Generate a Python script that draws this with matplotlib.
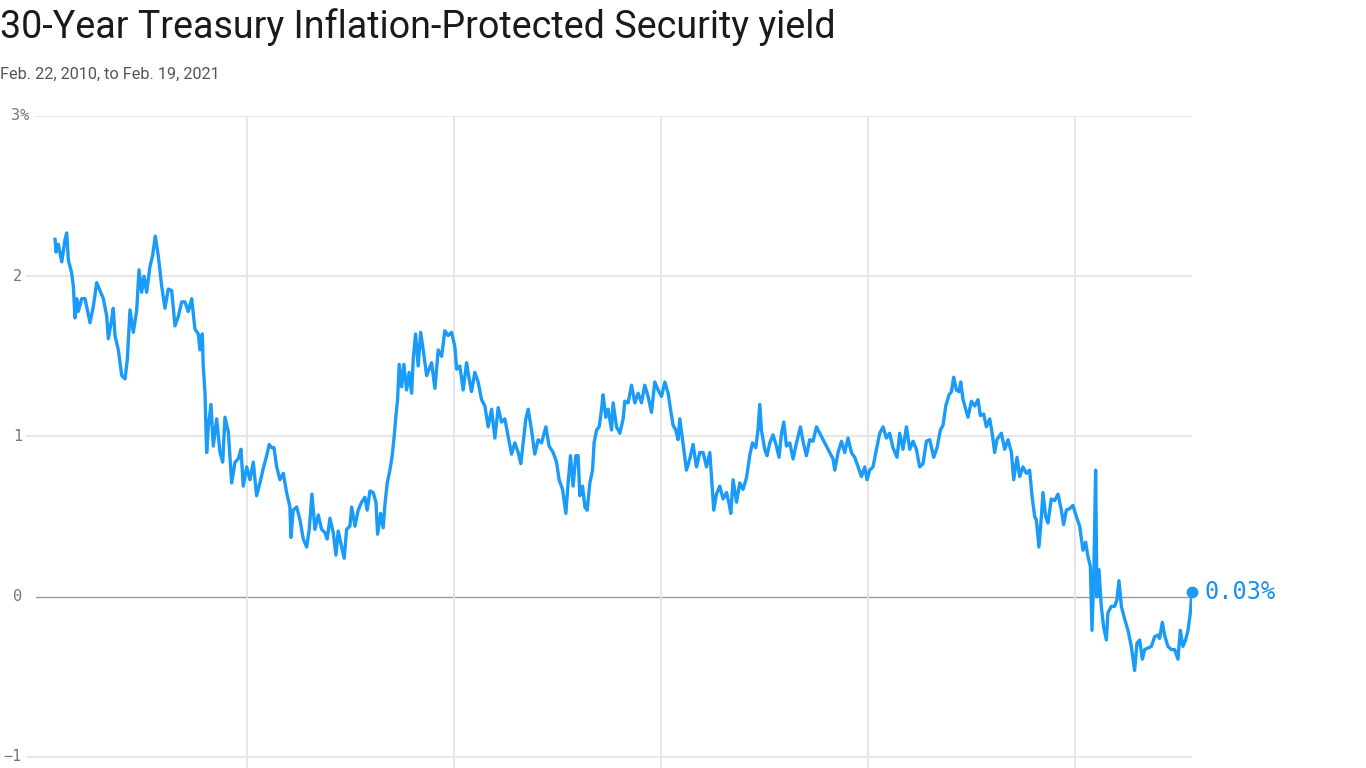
import matplotlib
matplotlib.use("Agg")
import matplotlib.pyplot as plt

# 30-year TIPS yield (x in decimal years, y in %)
years = [
    2010.142, 2010.152, 2010.174, 2010.207, 2010.239, 2010.255, 2010.271, 2010.303, 2010.319, 2010.335,
    2010.352, 2010.367, 2010.400, 2010.432, 2010.480, 2010.512, 2010.545, 2010.577, 2010.609, 2010.642,
    2010.657, 2010.690, 2010.705, 2010.722, 2010.754, 2010.787, 2010.819, 2010.841, 2010.867, 2010.899,
    2010.932, 2010.954, 2010.980, 2011.002, 2011.028, 2011.060, 2011.086, 2011.111, 2011.140, 2011.173,
    2011.205, 2011.237, 2011.270, 2011.302, 2011.334, 2011.367, 2011.398, 2011.430, 2011.463, 2011.495,
    2011.527, 2011.543, 2011.566, 2011.575, 2011.592, 2011.608, 2011.624, 2011.650, 2011.672, 2011.705,
    2011.737, 2011.763, 2011.785, 2011.817, 2011.850, 2011.882, 2011.914, 2011.940, 2011.962, 2011.995,
    2012.027, 2012.059, 2012.091, 2012.123, 2012.155, 2012.188, 2012.213, 2012.236, 2012.259, 2012.285,
    2012.317, 2012.349, 2012.381, 2012.413, 2012.423, 2012.445, 2012.478, 2012.510, 2012.542, 2012.575,
    2012.600, 2012.626, 2012.655, 2012.687, 2012.720, 2012.752, 2012.774, 2012.800, 2012.832, 2012.858,
    2012.880, 2012.913, 2012.938, 2012.961, 2012.993, 2013.010, 2013.042, 2013.073, 2013.106, 2013.138,
    2013.160, 2013.187, 2013.218, 2013.245, 2013.261, 2013.290, 2013.315, 2013.331, 2013.354, 2013.380,
    2013.402, 2013.421, 2013.438, 2013.454, 2013.470, 2013.493, 2013.515, 2013.541, 2013.566, 2013.590,
    2013.605, 2013.628, 2013.653, 2013.677, 2013.702, 2013.735, 2013.783, 2013.815, 2013.847, 2013.880,
    2013.911, 2013.943, 2013.976, 2014.008, 2014.025, 2014.056, 2014.088, 2014.121, 2014.146, 2014.169,
    2014.201, 2014.233, 2014.266, 2014.298, 2014.330, 2014.363, 2014.395, 2014.427, 2014.459, 2014.491,
    2014.523, 2014.556, 2014.588, 2014.620, 2014.646, 2014.668, 2014.694, 2014.717, 2014.749, 2014.781,
    2014.813, 2014.846, 2014.888, 2014.919, 2014.958, 2014.991, 2015.016, 2015.049, 2015.081, 2015.103,
    2015.126, 2015.151, 2015.178, 2015.200, 2015.216, 2015.242, 2015.265, 2015.287, 2015.313, 2015.339,
    2015.354, 2015.378, 2015.403, 2015.426, 2015.441, 2015.467, 2015.490, 2015.523, 2015.538, 2015.571,
    2015.603, 2015.635, 2015.651, 2015.683, 2015.716, 2015.748, 2015.780, 2015.812, 2015.844, 2015.876,
    2015.909, 2015.941, 2015.973, 2016.006, 2016.038, 2016.070, 2016.093, 2016.118, 2016.144, 2016.166,
    2016.183, 2016.215, 2016.247, 2016.279, 2016.311, 2016.344, 2016.376, 2016.408, 2016.441, 2016.473,
    2016.489, 2016.511, 2016.537, 2016.569, 2016.601, 2016.634, 2016.656, 2016.676, 2016.698, 2016.731,
    2016.763, 2016.794, 2016.827, 2016.859, 2016.885, 2016.917, 2016.939, 2016.956, 2016.972, 2017.004,
    2017.026, 2017.053, 2017.084, 2017.117, 2017.142, 2017.166, 2017.188, 2017.214, 2017.246, 2017.278,
    2017.311, 2017.349, 2017.374, 2017.407, 2017.439, 2017.471, 2017.504, 2017.536, 2017.568, 2017.601,
    2017.632, 2017.664, 2017.681, 2017.713, 2017.746, 2017.777, 2017.809, 2017.842, 2017.874, 2017.906,
    2017.939, 2017.971, 2017.993, 2018.019, 2018.051, 2018.084, 2018.116, 2018.148, 2018.180, 2018.212,
    2018.244, 2018.283, 2018.309, 2018.341, 2018.374, 2018.406, 2018.438, 2018.470, 2018.502, 2018.534,
    2018.567, 2018.599, 2018.638, 2018.670, 2018.702, 2018.728, 2018.754, 2018.786, 2018.809, 2018.831,
    2018.857, 2018.882, 2018.899, 2018.921, 2018.947, 2018.969, 2019.002, 2019.034, 2019.066, 2019.089,
    2019.121, 2019.147, 2019.179, 2019.205, 2019.227, 2019.249, 2019.292, 2019.324, 2019.356, 2019.389,
    2019.411, 2019.443, 2019.469, 2019.501, 2019.534, 2019.565, 2019.588, 2019.614, 2019.630, 2019.655,
    2019.679, 2019.694, 2019.720, 2019.742, 2019.775, 2019.807, 2019.839, 2019.872, 2019.894, 2019.920,
    2019.952, 2019.984, 2020.017, 2020.049, 2020.081, 2020.107, 2020.129, 2020.152, 2020.168, 2020.187,
    2020.203, 2020.216, 2020.235, 2020.258, 2020.281, 2020.307, 2020.322, 2020.355, 2020.387, 2020.409,
    2020.429, 2020.452, 2020.484, 2020.516, 2020.548, 2020.580, 2020.603, 2020.629, 2020.655, 2020.677,
    2020.709, 2020.742, 2020.774, 2020.805, 2020.822, 2020.848, 2020.870, 2020.902, 2020.935, 2020.967,
    2020.999, 2021.022, 2021.047, 2021.073, 2021.096, 2021.119, 2021.134,
]
yields = [
    2.23, 2.15, 2.20, 2.09, 2.23, 2.27, 2.10, 2.02, 1.94, 1.74,
    1.86, 1.78, 1.86, 1.86, 1.71, 1.81, 1.96, 1.91, 1.86, 1.75,
    1.61, 1.73, 1.80, 1.63, 1.54, 1.38, 1.36, 1.48, 1.79, 1.65,
    1.79, 2.04, 1.90, 2.00, 1.90, 2.06, 2.13, 2.25, 2.13, 1.94,
    1.80, 1.92, 1.91, 1.69, 1.75, 1.84, 1.84, 1.78, 1.86, 1.67,
    1.64, 1.54, 1.64, 1.44, 1.27, 0.90, 1.06, 1.20, 0.94, 1.11,
    0.90, 0.84, 1.12, 1.03, 0.71, 0.84, 0.86, 0.92, 0.69, 0.81,
    0.73, 0.84, 0.63, 0.71, 0.80, 0.88, 0.95, 0.93, 0.93, 0.81,
    0.73, 0.77, 0.65, 0.56, 0.37, 0.54, 0.56, 0.48, 0.36, 0.31,
    0.42, 0.64, 0.42, 0.51, 0.42, 0.40, 0.36, 0.49, 0.40, 0.26,
    0.41, 0.31, 0.24, 0.42, 0.44, 0.56, 0.44, 0.54, 0.59, 0.62,
    0.54, 0.66, 0.65, 0.59, 0.39, 0.52, 0.43, 0.57, 0.71, 0.79,
    0.88, 1.00, 1.13, 1.23, 1.45, 1.31, 1.45, 1.29, 1.40, 1.27,
    1.48, 1.64, 1.44, 1.65, 1.54, 1.38, 1.46, 1.30, 1.54, 1.50,
    1.66, 1.63, 1.65, 1.56, 1.42, 1.44, 1.29, 1.46, 1.36, 1.28,
    1.40, 1.34, 1.23, 1.19, 1.06, 1.17, 0.99, 1.18, 1.09, 1.11,
    1.00, 0.89, 0.96, 0.90, 0.83, 0.96, 1.11, 1.17, 1.04, 0.89,
    0.98, 0.96, 1.06, 0.94, 0.90, 0.84, 0.73, 0.67, 0.52, 0.71,
    0.88, 0.69, 0.88, 0.88, 0.63, 0.69, 0.56, 0.54, 0.71, 0.79,
    0.96, 1.04, 1.06, 1.17, 1.26, 1.12, 1.17, 1.04, 1.21, 1.06,
    1.02, 1.11, 1.22, 1.21, 1.32, 1.21, 1.27, 1.21, 1.32, 1.25,
    1.15, 1.34, 1.29, 1.25, 1.34, 1.27, 1.17, 1.07, 1.04, 0.98,
    1.11, 0.95, 0.79, 0.86, 0.95, 0.81, 0.90, 0.90, 0.81, 0.90,
    0.75, 0.54, 0.64, 0.69, 0.61, 0.65, 0.59, 0.52, 0.73, 0.59,
    0.71, 0.67, 0.74, 0.88, 0.96, 0.93, 1.04, 1.20, 1.04, 0.92,
    0.88, 0.96, 1.01, 0.94, 0.87, 1.02, 1.09, 0.94, 0.96, 0.86,
    0.96, 1.06, 0.97, 0.88, 0.98, 0.97, 1.06, 1.02, 0.98, 0.94,
    0.90, 0.86, 0.79, 0.90, 0.97, 0.90, 0.99, 0.90, 0.87, 0.81,
    0.75, 0.81, 0.73, 0.79, 0.81, 0.92, 1.02, 1.06, 0.99, 1.02,
    0.93, 0.87, 1.02, 0.92, 1.06, 0.92, 0.97, 0.92, 0.81, 0.83,
    0.97, 0.98, 0.87, 0.93, 1.04, 1.07, 1.19, 1.26, 1.28, 1.37,
    1.29, 1.28, 1.34, 1.23, 1.17, 1.12, 1.22, 1.19, 1.23, 1.13,
    1.14, 1.06, 1.11, 1.01, 0.90, 0.98, 1.02, 0.92, 0.98, 0.90,
    0.73, 0.87, 0.75, 0.81, 0.77, 0.79, 0.63, 0.50, 0.48, 0.31,
    0.50, 0.65, 0.50, 0.46, 0.61, 0.60, 0.64, 0.54, 0.45, 0.54,
    0.55, 0.57, 0.50, 0.44, 0.29, 0.34, 0.25, 0.19, -0.21, 0.17,
    0.79, 0.00, 0.17, -0.06, -0.19, -0.27, -0.10, -0.06, -0.06, -0.02,
    0.10, -0.06, -0.14, -0.21, -0.31, -0.46, -0.29, -0.27, -0.39, -0.33,
    -0.32, -0.31, -0.25, -0.24, -0.26, -0.16, -0.24, -0.31, -0.33, -0.33,
    -0.39, -0.21, -0.31, -0.27, -0.21, -0.10, 0.03,
]

y_ticks = [3, 2, 1, 0, -1]
y_tick_labels = ["3%", "2", "1", "0", "\u22121"]
x_grid_years = [2012, 2014, 2016, 2018, 2020]

TITLE = "30-Year Treasury Inflation-Protected Security yield"
SUBTITLE = "Feb. 22, 2010, to Feb. 19, 2021"
LINE_COLOR = "#1a9bfa"

W, H = 1366, 768
fig = plt.figure(figsize=(W / 100, H / 100), dpi=100)
ax = fig.add_axes([0, 0, 1192 / W, (H - 116) / H])
ax.set_xlim(2009.61, 2021.135)
ax.set_ylim(-1.069, 3)
ax.axis("off")

# horizontal grid, starting just right of each label
grid_start = {3: 37, 2: 27, 1: 27, 0: 36, -1: 28}
for yv, lab in zip(y_ticks, y_tick_labels):
    color, lw = ("#9a9a9a", 1.0) if yv == 0 else ("#e4e4e4", 1.3)
    ax.axhline(yv, xmin=grid_start[yv] / 1192, xmax=1, color=color, lw=lw, zorder=1)
    if lab.endswith("%"):
        ax.text(11 / 1192, yv, lab, transform=ax.get_yaxis_transform(), ha="left",
                va="center", fontsize=11, family="DejaVu Sans Mono", color="#777777")
    else:
        ax.text(22 / 1192, yv, lab, transform=ax.get_yaxis_transform(), ha="right",
                va="center", fontsize=11, family="DejaVu Sans Mono", color="#777777")

for xv in x_grid_years:
    ax.axvline(xv, color="#e4e4e4", lw=1.3, zorder=1)

ax.plot(years, yields, color=LINE_COLOR, lw=2.4, solid_joinstyle="round", zorder=3)
ax.plot(years[-1], yields[-1], "o", color=LINE_COLOR, ms=7.5, clip_on=False, zorder=4)
ax.annotate(f"{yields[-1]:.2f}%", (years[-1], yields[-1]), xytext=(9, 0),
            textcoords="offset points", va="center", ha="left", fontsize=17,
            family="DejaVu Sans Mono", color="#1b8ef2", annotation_clip=False)

title = fig.text(0.0, 1 - 38 / H, TITLE, ha="left", va="baseline", fontsize=26,
                 family="Roboto", color="#1a1a1a")
sub = fig.text(0.0, 1 - 79 / H, SUBTITLE, ha="left", va="baseline", fontsize=10,
               family="Roboto", color="#555555")

# squeeze text to the reference widths
fig.canvas.draw()
for t, target in [(title, 835), (sub, 219)]:
    w = t.get_window_extent().width
    t.set_fontsize(t.get_fontsize() * target / w)

fig.savefig("out.png", dpi=100)
